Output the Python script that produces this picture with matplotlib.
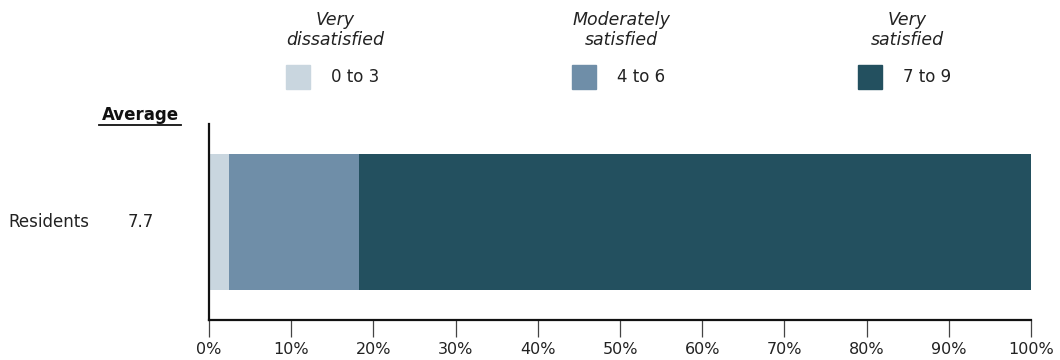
import matplotlib.pyplot as plt
from matplotlib.patches import Rectangle

groups = ["Residents"]
averages = ["7.7"]
bands = ["0 to 3", "4 to 6", "7 to 9"]
band_titles = ["Very\ndissatisfied", "Moderately\nsatisfied", "Very\nsatisfied"]
shares = [2.4, 15.8, 81.8]
colors = ["#c9d6df", "#6f8ea8", "#23505f"]
ticks = [0, 10, 20, 30, 40, 50, 60, 70, 80, 90, 100]
tick_labels = [f"{t}%" for t in ticks]

W, H = 1060, 360
fig = plt.figure(figsize=(W / 100, H / 100), dpi=100)
ax = fig.add_axes([209 / W, 1 - 320 / H, (1031 - 209) / W, (320 - 124) / H])

left = 0
for val, col in zip(shares, colors):
    ax.barh(0.5, val, left=left, height=0.694, color=col, edgecolor="none")
    left += val

ax.set_xlim(0, 100)
ax.set_ylim(0, 1)
ax.set_xticks(ticks)
ax.set_xticklabels(tick_labels, fontsize=11.5, color="#222222")
ax.set_yticks([])
for s in ["top", "right"]:
    ax.spines[s].set_visible(False)
for s in ["left", "bottom"]:
    ax.spines[s].set_linewidth(1.6)
    ax.spines[s].set_color("#111111")
ax.tick_params(axis="x", length=12, width=0.9, color="#444444", pad=4)

# row labels
fig.text(8 / W, 1 - 222 / H, groups[0], fontsize=12, va="center", ha="left", color="#222222")
fig.text(141 / W, 1 - 222 / H, averages[0], fontsize=12, va="center", ha="center", color="#222222")
fig.text(140 / W, 1 - 115 / H, "Average", fontsize=12, fontweight="bold", va="center",
         ha="center", color="#111111")
fig.add_artist(plt.Line2D([99 / W, 181 / W], [1 - 125 / H, 1 - 125 / H], color="#111111", lw=1.3))

# legend
sq_x = [286, 572, 858]
for x0, lab, title, col in zip(sq_x, bands, band_titles, colors):
    fig.add_artist(Rectangle((x0 / W, 1 - 89 / H), 24 / W, 24 / H, color=col,
                             transform=fig.transFigure))
    fig.text((x0 + 45) / W, 1 - 77 / H, lab, fontsize=12, va="center", ha="left", color="#222222")
    fig.text((x0 + 49) / W, 1 - 30 / H, title, fontsize=12.5, fontstyle="italic", va="center",
             ha="center", color="#222222", linespacing=1.2)

fig.savefig("out.png", dpi=100)
